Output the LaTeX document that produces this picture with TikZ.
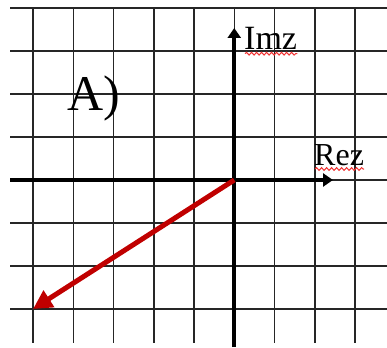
\documentclass[tikz,border=0pt]{standalone}
\usepackage{fontspec}
\setmainfont{Liberation Serif}
\usepackage{xcolor}
\usetikzlibrary{arrows.meta,decorations.pathmorphing}
\definecolor{gridink}{HTML}{262626}
\definecolor{vecred}{HTML}{C00000}
\definecolor{spellred}{HTML}{F03030}
\tikzset{
    every picture/.style={line join=miter},
    gridline/.style={draw=gridink,line width=1.5pt},
    axisline/.style={draw=black,line width=4.4pt,
      -{Triangle[length=10pt,width=13pt]}},
    vecline/.style={draw=vecred,line width=5pt,
      -{Triangle[length=19pt,width=19pt]}},
    axislabel/.style={inner sep=0pt,anchor=base west},
    spellmark/.style={draw=spellred,line width=1pt,
      decorate,decoration={snake,amplitude=1.4pt,segment length=5pt}}
}

\begin{document}
\begin{tikzpicture}[x=1pt,y=-1pt]
  \useasboundingbox (0,0) rectangle (387,347);
  % grid
  \foreach \i in {0,...,8}\draw[gridline] (33+40.25*\i,8) -- ++(0,335);
  \foreach \j in {0,...,7}\draw[gridline] (10,8+43*\j) -- (387,8+43*\j);
  % axes
  \coordinate (O) at (234.25,180);
  \coordinate (xl) at (10,180);
  \coordinate (xr) at (333,180);
  \coordinate (yb) at (234.25,347);
  \coordinate (yt) at (234.25,28);
  \draw[axisline,-] (xl) -- (O);
  \draw[axisline] (O) -- (xr);
  \draw[axisline,-] (yb) -- (O);
  \draw[axisline] (O) -- (yt);
  \node[axislabel,font=\fontsize{34}{34}\selectfont] (im) at (244,50) {Imz};
  \node[axislabel,font=\fontsize{32}{32}\selectfont] (re) at (314,165) {Rez};
  \draw[spellmark] ([shift={(1,3.5)}]im.south west) -- ([shift={(0,3.5)}]im.south east);
  \draw[spellmark] ([shift={(1,3.5)}]re.south west) -- ([shift={(0,3.5)}]re.south east);
  \node[axislabel,font=\fontsize{50}{50}\selectfont] (lbl) at (67,111) {A)};
  % vector
  \coordinate (z) at (33,309);
  \draw[vecline] (O) -- (z);
\end{tikzpicture}
\end{document}
